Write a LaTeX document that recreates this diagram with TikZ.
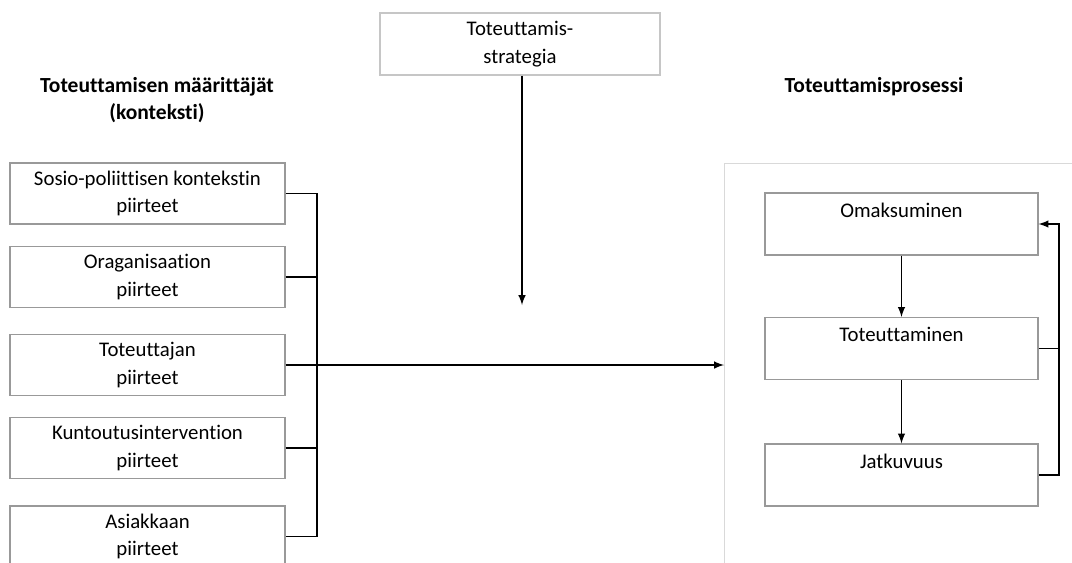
\documentclass[tikz,border=0pt]{standalone}
\usepackage{fontspec}
\setmainfont{Carlito}[Ligatures=NoCommon]
\usetikzlibrary{positioning}
\tikzset{>=latex}

\tikzset{
  ctxbox/.style={draw=gray!80, line width=0.8pt, minimum width=275*0.025cm, minimum height=61*0.025cm, align=center, inner sep=0pt},
  procbox/.style={draw=gray!80, line width=0.8pt, minimum width=273*0.025cm, minimum height=62*0.025cm, align=center, inner sep=0pt},
  conn/.style={line width=1.4pt, color=black},
  head/.style={font=\fontsize{15.3}{19.5}\selectfont\bfseries, align=center}
}

\begin{document}
\begin{tikzpicture}[x=0.025cm, y=-0.025cm, font=\fontsize{14.8}{19.8}\selectfont]

\useasboundingbox (0,0) rectangle (1072,562);
\clip (0,0) rectangle (1072,562);

% headings
\node[head] (hctx) at (157,100) {Toteuttamisen määrittäjät\\(konteksti)};
\node[head] (hproc) at (874,87) {Toteuttamisprosessi};

% strategy box
\node[ctxbox, draw=gray!45, minimum width=280*0.025cm, minimum height=62*0.025cm] (strat) at (520,44) {Toteuttamis-\\strategia};

% context boxes
\node[ctxbox] (sos) at (147.5,193.5) {Sosio-poliittisen kontekstin\\piirteet};
\node[ctxbox] (org) at (147.5,277) {Oraganisaation\\piirteet};
\node[ctxbox] (tot) at (147.5,365) {Toteuttajan\\piirteet};
\node[ctxbox] (kun) at (147.5,448) {Kuntoutusintervention\\piirteet};
\node[ctxbox] (asi) at (147.5,536.5) {Asiakkaan\\piirteet};

% process panel
\node[draw=gray!30, line width=0.8pt, anchor=north west, minimum width=360*0.025cm, minimum height=420*0.025cm, inner sep=0pt] (panel) at (724,163) {};

\node[procbox] (oma) at (901.5,224) {Omaksuminen\\\mbox{}};
\node[procbox] (totm) at (901.5,348.5) {Toteuttaminen\\\mbox{}};
\node[procbox] (jat) at (901.5,475) {Jatkuvuus\\\mbox{}};

% connectors
\coordinate (bus) at (317,0);
\coordinate (sEnd) at (522,305);
\coordinate (fb) at (1059,0);

\draw[conn] (sos.east) -| (bus |- asi.east) -- (asi.east);
\draw[conn] (org.east) -- (bus |- org.east);
\draw[conn] (kun.east) -- (bus |- kun.east);
\draw[conn, ->] (tot.east) -- (panel.west |- tot.east);

\draw[conn, ->] (strat.south -| sEnd) -- (sEnd);

\draw[conn, ->] (oma) -- (totm);
\draw[conn, ->] (totm) -- (jat);
\draw[conn, ->] (jat.east) -| (fb |- oma.east) -- (oma.east);
\draw[conn] (totm.east) -- (fb |- totm.east);

\end{tikzpicture}
\end{document}
